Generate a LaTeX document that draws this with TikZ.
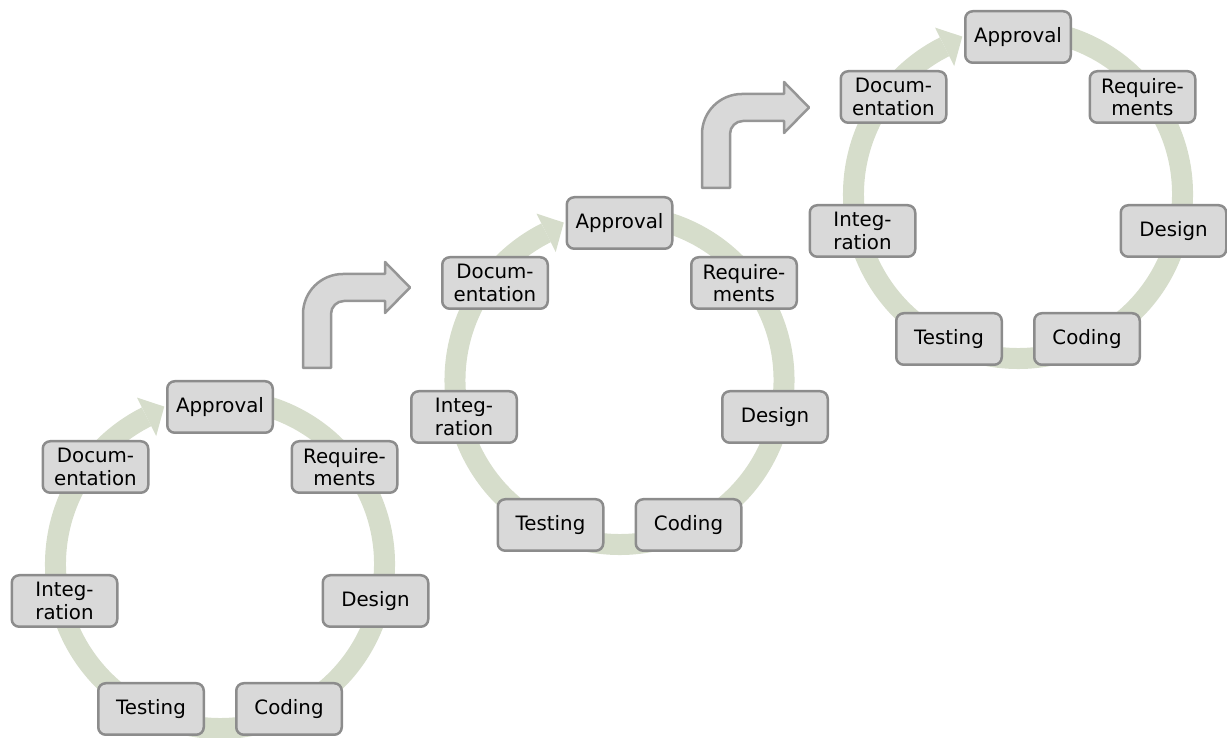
\documentclass[tikz,border=0pt]{standalone}
\usepackage{fontspec}
\setmainfont{DejaVu Sans}
\usetikzlibrary{calc}

\definecolor{ringcol}{RGB}{214,221,203}
\definecolor{boxfill}{RGB}{217,217,217}
\definecolor{boxline}{RGB}{140,140,140}
\definecolor{bentline}{RGB}{150,150,150}

\tikzset{
  phase/.style={draw=boxline, fill=boxfill, line width=2.5pt, rounded corners=7.5pt,
    minimum width=105.5pt, minimum height=51.5pt, inner sep=0pt, align=center,
    font=\fontsize{19.8}{22.5}\selectfont},
  ring/.style={draw=ringcol, line width=21pt},
  ringhead/.style={fill=ringcol},
  bent/.style={draw=bentline, fill=boxfill, line width=2.5pt, line join=round},
}

% One development cycle; #1 = name prefix, (#2,#3) = centre of the Approval box
\newcommand\lifecycle[3]{%
  \coordinate (#1c) at (#2,#3-157);
  \draw[ring] ($(#1c)+(80:164.5pt)$) arc[start angle=80, end angle=-243.5, radius=164.5pt];
  \fill[ringhead] ($(#1c)+(116.5:143pt)$) -- ($(#1c)+(109.5:167pt)$)
                  -- ($(#1c)+(116.5:186pt)$) -- cycle;
  \node[phase] (#1app) at (#2,#3) {Approval};
  \node[phase] (#1req) at (#2+124.5,#3-60)  {Require-\\ments};
  \node[phase] (#1des) at (#2+155.5,#3-194) {Design};
  \node[phase] (#1cod) at (#2+69,#3-302)    {Coding};
  \node[phase] (#1tst) at (#2-69,#3-302)    {Testing};
  \node[phase] (#1int) at (#2-155.5,#3-194) {Integ-\\ration};
  \node[phase] (#1doc) at (#2-124.5,#3-60)  {Docum-\\entation};
}

% Bent block arrow; (#1,#2) = lower left corner of its stem
\newcommand\bentarrow[2]{%
  \begin{scope}[shift={(#1,#2)}]
    \draw[bent] (0,0) -- (0,54) arc[start angle=180, end angle=90, radius=40pt]
      -- (82,94) -- (82,106) -- (107,80.5) -- (82,55) -- (82,67) -- (41,67)
      arc[start angle=90, end angle=180, radius=13pt] -- (28,0) -- cycle;
  \end{scope}
}

\begin{document}
\begin{tikzpicture}[x=1pt, y=1pt]
  \useasboundingbox (0,0) rectangle (1227,738);

  \lifecycle{a}{220}{331}
  \lifecycle{b}{619.5}{515}
  \lifecycle{c}{1018}{701}

  \bentarrow{303}{370}
  \bentarrow{702}{550}
\end{tikzpicture}
\end{document}
